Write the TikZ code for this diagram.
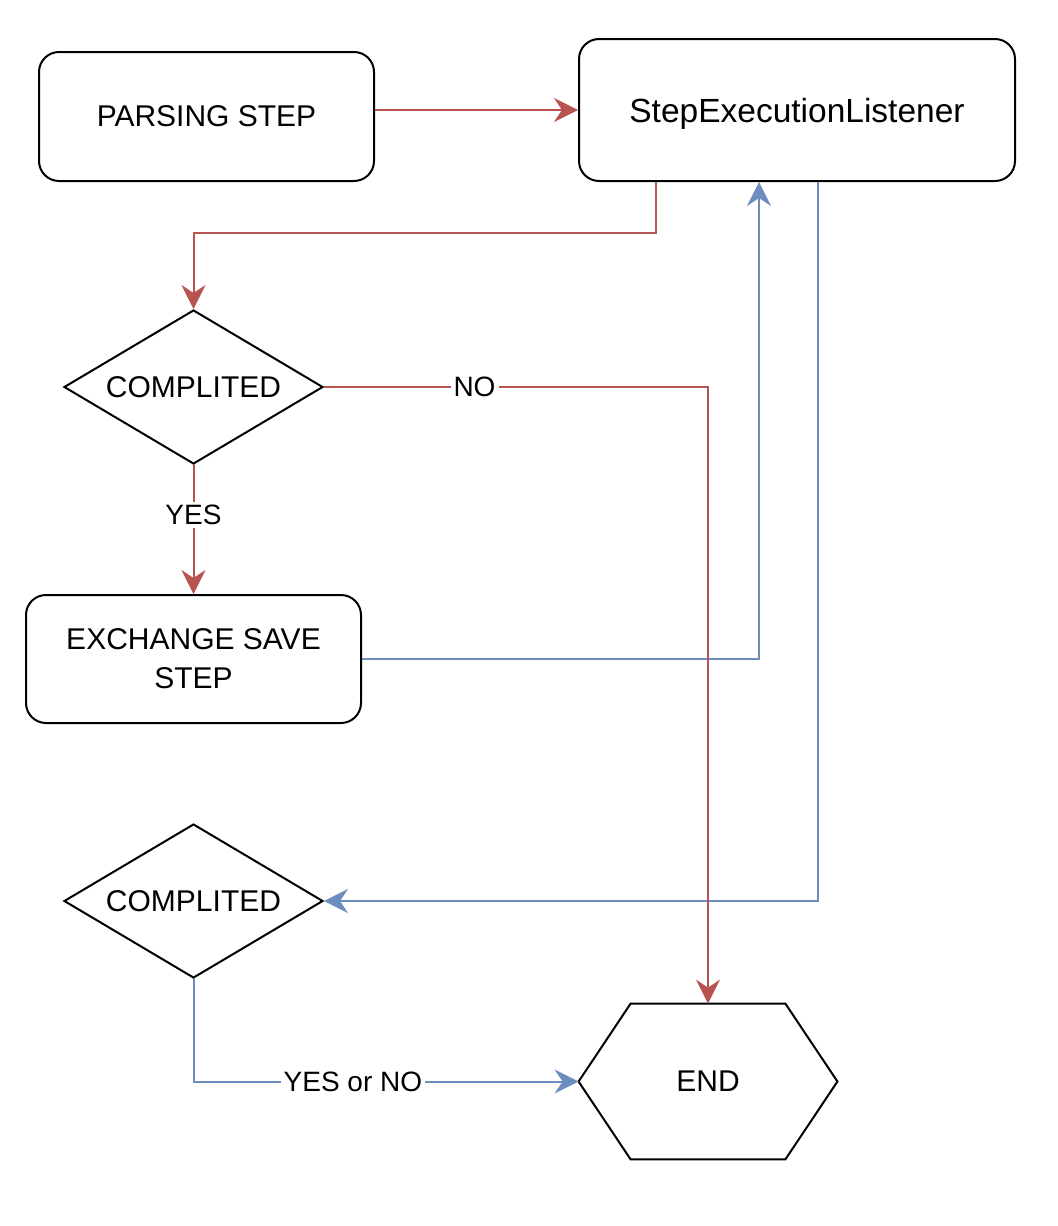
\documentclass[tikz,border=0pt]{standalone}
\usepackage{fontspec}
\setmainfont{Liberation Sans}
\usetikzlibrary{shapes.geometric,arrows.meta,calc}
\definecolor{redline}{HTML}{B85450}
\definecolor{blueline}{HTML}{6C8EBF}
\begin{document}
\begin{tikzpicture}[x=0.5pt,y=-0.5pt,
  box/.style={draw, line width=1pt, rounded corners=10pt, align=center, inner sep=0pt, font=\fontsize{15}{19.5}\selectfont},
  decision/.style={draw, diamond, shape aspect=1.68, line width=1pt, inner sep=0pt, minimum width=129.5pt, minimum height=77pt, font=\fontsize{15}{18}\selectfont},
  tip/.style={-{Stealth[length=12pt,width=12pt,inset=4pt]}},
  redarrow/.style={draw=redline, line width=1pt, tip},
  bluearrow/.style={draw=blueline, line width=1pt, tip},
  lbl/.style={fill=white, inner sep=1.5pt, text=black, font=\fontsize{14}{16}\selectfont}
]
\useasboundingbox (0,0) rectangle (1058,1226);

\node[box, minimum width=167.5pt, minimum height=64.5pt] (parsing) at (206.5,116.5) {PARSING STEP};
\node[box, minimum width=218pt, minimum height=71pt, text depth=0pt, font=\fontsize{16.75}{20}\selectfont] (listener) at (797,110) {StepExecutionListener};
\node[decision] (d1) at (193.5,387) {COMPLITED};
\node[box, minimum width=167.5pt, minimum height=64pt] (ex) at (193.5,659) {EXCHANGE SAVE\\STEP};
\node[decision] (d2) at (193.5,901) {COMPLITED};
\node[minimum width=129pt, minimum height=77.5pt, inner sep=0pt, font=\fontsize{15}{18}\selectfont] (end) at (708,1081.5) {END};
\draw[line width=1pt] ($(end.north west)+(52,0)$) -- ($(end.north east)+(-52,0)$) -- (end.east)
  -- ($(end.south east)+(-52,0)$) -- ($(end.south west)+(52,0)$) -- (end.west) -- cycle;

\coordinate (lsA) at ($(listener.south west)+(78,0)$);
\coordinate (lsB) at ($(listener.south west)+(181,0)$);
\coordinate (lsC) at ($(listener.south west)+(240,0)$);

\draw[bluearrow] (ex.east) -| (lsB);
\draw[bluearrow] (lsC) |- (d2.east);
\draw[bluearrow] (d2.south) |- node[lbl, pos=0.707] {YES or NO} (end.west);

\draw[redarrow] (parsing.east |- listener.west) -- (listener.west);
\draw[redarrow] (lsA) -- ++(0,51) -| (d1.north);
\draw[redarrow] (d1.east) -| node[lbl, pos=0.196] {NO} (end.north);
\draw[redarrow] (d1.south) -- node[lbl, pos=0.39] {YES} (ex.north);
\end{tikzpicture}
\end{document}
